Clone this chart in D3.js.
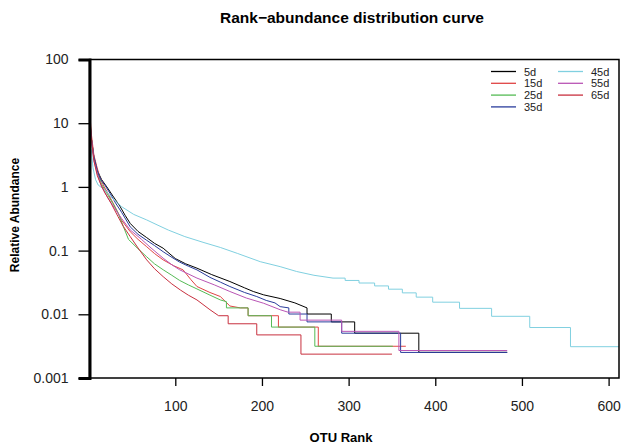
<!DOCTYPE html>
<html>
<head>
<meta charset="utf-8">
<script src="https://cdn.jsdelivr.net/npm/d3@7"></script>
<style>
  body { margin: 0; background: #fff; }
  text { font-family: "Liberation Sans", Arial, sans-serif; }
</style>
</head>
<body>
<div id="chart"></div>
<script>
// rank-abundance curves: [OTU rank, relative abundance %]
const s5d = [[1,13],[3,6],[6,3],[10,1.8],[15,1.3],[21,1.0],[28,0.72],[36,0.5],[42,0.36],[48,0.267],[57,0.2],[67,0.16],[76,0.13],[86,0.109],[100,0.075],[112,0.062],[125,0.053],[142,0.042],[163,0.0327],[180,0.026],[190,0.0228],[202,0.0202],[221,0.0177],[238,0.0151],[252,0.0126],[252,0.0101],[280,0.0101],[280,0.0076],[307,0.0076],[307,0.00505],[381,0.00505],[381,0.00253],[483,0.00253]];
const s15d = [[1,18],[3,7],[6,3.2],[9,2.2],[13,1.4],[18,1.0],[23,0.76],[30,0.5],[38,0.3],[48,0.198],[57,0.15],[67,0.115],[76,0.09],[86,0.0715],[98,0.058],[109,0.0498],[118,0.035],[125,0.0273],[140,0.022],[152,0.019],[163,0.0135],[175,0.0126],[184,0.0126],[184,0.0095],[219,0.0095],[219,0.0063],[265,0.0063],[265,0.00315],[366,0.00315]];
const s25d = [[1,15],[3,6],[6,2.8],[10,1.7],[15,1.1],[22,0.75],[28,0.55],[34,0.39],[40,0.24],[46,0.15],[56,0.11],[67,0.08],[76,0.062],[86,0.05],[96,0.041],[105,0.034],[115,0.029],[125,0.025],[140,0.02],[152,0.0168],[159,0.0158],[159,0.0126],[184,0.0126],[184,0.0095],[211,0.0095],[211,0.0063],[261,0.0063],[261,0.00315],[351,0.00315]];
const s35d = [[1,12],[3,6],[6,3],[10,1.8],[14,1.3],[19,1.05],[25,0.78],[31,0.56],[38,0.4],[48,0.236],[57,0.18],[67,0.145],[76,0.12],[86,0.096],[95,0.08],[105,0.066],[115,0.057],[125,0.0498],[140,0.038],[152,0.032],[163,0.0273],[180,0.022],[194,0.019],[205,0.0165],[215,0.0151],[221,0.0132],[231,0.0126],[231,0.0101],[252,0.0101],[252,0.0076],[292,0.0076],[292,0.00505],[360,0.00505],[360,0.00252],[483,0.00252]];
const s45d = [[1,9.5],[3,4],[5,2],[8,1.3],[11,1.07],[19,0.89],[28,0.65],[38,0.49],[52,0.37],[67,0.303],[80,0.25],[92,0.21],[111,0.166],[132,0.135],[152,0.112],[172,0.09],[198,0.067],[221,0.056],[240,0.047],[260,0.041],[282,0.037],[296,0.037],[296,0.034],[312,0.034],[312,0.031],[330,0.031],[330,0.0279],[346,0.0279],[346,0.0248],[362,0.0248],[362,0.0217],[378,0.0217],[378,0.0186],[397,0.0186],[397,0.0155],[428,0.0155],[428,0.0124],[465,0.0124],[465,0.0093],[509,0.0093],[509,0.0062],[556,0.0062],[556,0.0031],[612,0.0031]];
const s55d = [[1,14],[3,6],[6,2.6],[10,1.6],[15,1.0],[22,0.68],[30,0.46],[38,0.32],[48,0.211],[61,0.15],[72,0.11],[86,0.076],[96,0.06],[105,0.05],[125,0.037],[145,0.029],[163,0.0228],[182,0.018],[202,0.0149],[221,0.0118],[230,0.0108],[244,0.0108],[244,0.0081],[292,0.0081],[292,0.0054],[358,0.0054],[358,0.0027],[483,0.0027]];
const s65d = [[1,16],[3,6],[6,2.6],[10,1.5],[14,1.1],[19,0.8],[26,0.55],[34,0.34],[40,0.24],[48,0.166],[57,0.11],[67,0.0715],[76,0.052],[86,0.039],[96,0.03],[106,0.024],[115,0.02],[125,0.0168],[140,0.0118],[150,0.0095],[161,0.0095],[161,0.0071],[194,0.0071],[194,0.00475],[245,0.00475],[245,0.00237],[350,0.00237]];

const seriesNames = ["5d", "15d", "25d", "35d", "45d", "55d", "65d"];
const seriesData = [s5d, s15d, s25d, s35d, s45d, s55d, s65d];
const seriesColors = ["#000000", "#e04444", "#55bb55", "#2a3d9c", "#80d0e0", "#b955b5", "#c8303f"];

const yTicks = [0.001, 0.01, 0.1, 1, 10, 100];
const yTickLabels = ["0.001", "0.01", "0.1", "1", "10", "100"];
const xTicks = [100, 200, 300, 400, 500, 600];

const svg = d3.create("svg").attr("width", 625).attr("height", 444);
const margin = { top: 59.5, right: 6, bottom: 66, left: 89.5 };
const width = 625 - margin.left - margin.right;
const height = 444 - margin.top - margin.bottom;

const x = d3.scaleLinear().domain([1, 612]).range([margin.left, margin.left + width]);
const y = d3.scaleLog().domain([0.001, 100]).range([margin.top + height, margin.top]);

// title
svg.append("text")
    .attr("x", 352).attr("y", 23)
    .attr("text-anchor", "middle")
    .attr("font-size", 15.5).attr("font-weight", "bold")
    .text("Rank\u2212abundance distribution curve");

// curves
const line = d3.line().x(d => x(d[0])).y(d => y(d[1]));
seriesData.forEach((s, i) => {
    svg.append("path")
        .datum(s)
        .attr("fill", "none")
        .attr("stroke", seriesColors[i])
        .attr("stroke-width", 1)
        .attr("d", line);
});

// box
svg.append("rect")
    .attr("x", margin.left).attr("y", margin.top)
    .attr("width", width).attr("height", height)
    .attr("fill", "none").attr("stroke", "#000").attr("stroke-width", 1.5);

// axes
const yAxis = d3.axisLeft(y)
    .tickValues(yTicks)
    .tickFormat((d, i) => yTickLabels[i])
    .tickSize(11).tickPadding(10);
const gy = svg.append("g").attr("transform", `translate(${margin.left},0)`).call(yAxis);
gy.select(".domain").attr("stroke-width", 3);
gy.selectAll(".tick line").attr("stroke-width", 1.3);
gy.selectAll("text").attr("font-size", 14).attr("font-family", "Liberation Sans, Arial, sans-serif").attr("fill", "#222");

const xAxis = d3.axisBottom(x).tickValues(xTicks).tickSize(8).tickPadding(15).tickSizeOuter(0);
const gx = svg.append("g").attr("transform", `translate(0,${margin.top + height})`).call(xAxis);
gx.select(".domain").remove();
gx.selectAll(".tick line").attr("stroke-width", 1.3);
gx.selectAll("text").attr("font-size", 14).attr("font-family", "Liberation Sans, Arial, sans-serif").attr("fill", "#222");

// axis titles
svg.append("text")
    .attr("x", 341).attr("y", 442)
    .attr("text-anchor", "middle")
    .attr("font-size", 13).attr("font-weight", "bold")
    .text("OTU Rank");
svg.append("text")
    .attr("transform", "translate(19,215) rotate(-90)")
    .attr("text-anchor", "middle")
    .attr("font-size", 12).attr("font-weight", "bold")
    .text("Relative Abundance");

// legend, two columns
const legend = svg.append("g");
seriesNames.forEach((name, i) => {
    const col = i < 4 ? 0 : 1;
    const row = i < 4 ? i : i - 4;
    const lx = col === 0 ? 491 : 558;
    const ly = 71.5 + row * 11.8;
    legend.append("line")
        .attr("x1", lx).attr("x2", lx + 25)
        .attr("y1", ly).attr("y2", ly)
        .attr("stroke", seriesColors[i]).attr("stroke-width", 1.3);
    legend.append("text")
        .attr("x", lx + 33).attr("y", ly + 4)
        .attr("font-size", 11).attr("fill", "#222")
        .text(name);
});

document.getElementById("chart").appendChild(svg.node());
</script>
</body>
</html>
